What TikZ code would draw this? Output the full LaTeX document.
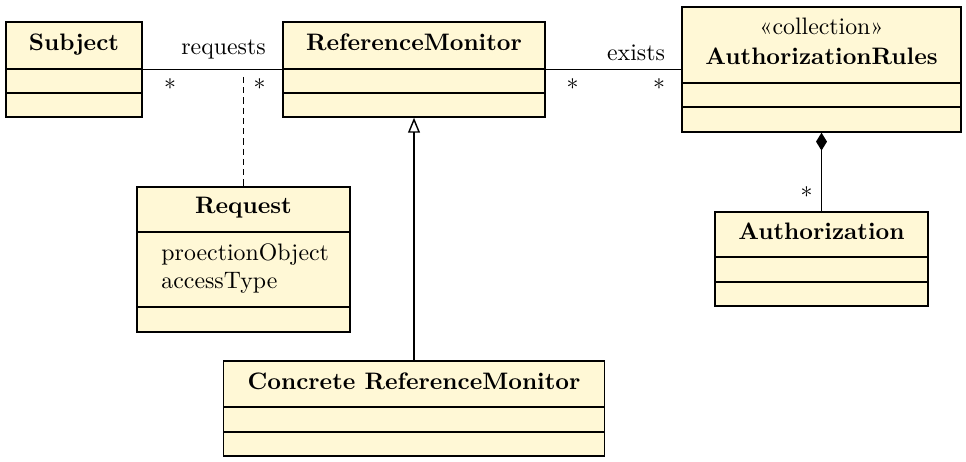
\documentclass[tikz,border=0pt]{standalone}
\usepackage{fontspec}
\usetikzlibrary{arrows.meta}
\definecolor{umlfill}{RGB}{255,248,214}
\begin{document}
\begin{tikzpicture}[x=0.42pt,y=-0.42pt,
  cls/.style={draw=black, fill=umlfill, line width=0.6pt, rectangle, inner sep=0pt},
  ttl/.style={font=\bfseries, inner sep=0pt, anchor=base},
  lbl/.style={inner sep=0pt, anchor=base},
  sep/.style={line width=0.6pt},
  conn/.style={line width=0.6pt}]
\useasboundingbox (0,0) rectangle (966,462);
% classes
\node[cls, minimum width=136*0.42pt, minimum height=95*0.42pt] (subj) at (74,69.5) {};
\node[cls, minimum width=262*0.42pt, minimum height=95*0.42pt] (rm) at (414,69.5) {};
\node[cls, minimum width=279*0.42pt, minimum height=125*0.42pt] (ar) at (821.5,69.5) {};
\node[cls, minimum width=213*0.42pt, minimum height=145*0.42pt] (req) at (243.5,259.5) {};
\node[cls, minimum width=213*0.42pt, minimum height=94*0.42pt] (auth) at (821.5,259) {};
\node[cls, minimum width=381*0.42pt, minimum height=95*0.42pt] (crm) at (414,408.5) {};
% compartments
\draw[sep] (6,69) -- (142,69) (6,93) -- (142,93);
\draw[sep] (283,69) -- (545,69) (283,93) -- (545,93);
\draw[sep] (682,83) -- (961,83) (682,107) -- (961,107);
\draw[sep] (137,232) -- (350,232) (137,307) -- (350,307);
\draw[sep] (715,257) -- (928,257) (715,282) -- (928,282);
\draw[sep] (223.5,407) -- (604.5,407) (223.5,432) -- (604.5,432);
% titles
\node[ttl] (tsubj) at (74,51) {Subject};
\node[ttl] (trm) at (414,51) {ReferenceMonitor};
\node[lbl] (tster) at (821.5,35) {«collection»};
\node[ttl] (tar) at (821.5,65) {AuthorizationRules};
\node[ttl] (treq) at (243.5,214) {Request};
\node[lbl, anchor=base west] (a1) at (161,261) {proectionObject};
\node[lbl, anchor=base west] (a2) at (161,289) {accessType};
\node[ttl] (tauth) at (821.5,240) {Authorization};
\node[ttl] (tcrm) at (414,390) {Concrete ReferenceMonitor};
% connectors
\draw[conn] (subj.east) -- (rm.west);
\draw[conn] (rm.east) -- (ar.west);
\coordinate (reqpt) at (243.5,77);
\draw[conn, dash pattern=on 2.6pt off 1.7pt] (reqpt) -- (req.north);
\draw[conn, -{Triangle[open, length=6.3pt, width=5pt]}] (crm.north) -- (rm.south);
\draw[conn, {Diamond[length=7.5pt, width=4.6pt]}-] (ar.south) -- (auth.north);
% labels
\node[lbl] (lreq) at (223.5,55) {requests};
\node[lbl] (lex) at (636,61) {exists};
\node[lbl] (m1) at (170,97) {*};
\node[lbl] (m2) at (259.5,97) {*};
\node[lbl] (m3) at (572.5,97) {*};
\node[lbl] (m4) at (659,97) {*};
\node[lbl] (m5) at (806.5,205) {*};
\end{tikzpicture}
\end{document}
